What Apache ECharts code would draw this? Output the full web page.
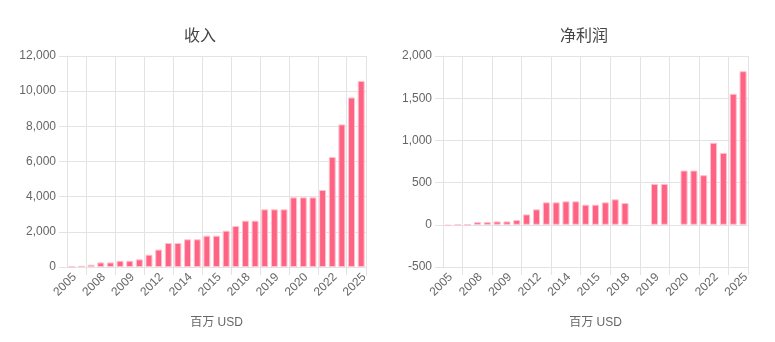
<!DOCTYPE html>
<html>
<head>
<meta charset="utf-8">
<script src="https://cdn.jsdelivr.net/npm/echarts@6/dist/echarts.min.js"></script>
<style>
html,body{margin:0;padding:0;background:#fff;}
#c{width:775px;height:342px;}
</style>
</head>
<body>
<div id="c"></div>
<script>
var categories = ['2005','2006','2007','2008','2008','2009','2009','2010','2011','2012','2013','2013','2014','2014','2015','2015','2016','2017','2018','2018','2019','2019','2019','2020','2020','2020','2021','2022','2023','2024','2025'];
var revenue = [15,70,130,260,260,355,355,435,700,990,1365,1365,1575,1575,1780,1780,2065,2330,2635,2635,3280,3280,3280,3960,3960,3960,4380,6255,8110,9640,10585];
var netProfit = [-12,-5,-2,32,32,40,40,56,123,183,266,266,278,278,238,238,266,302,258,null,null,484,484,null,643,643,588,972,852,1552,1820];
var titles = ['收入','净利润'];
var unitName = '百万 USD';

var FONT = '"Liberation Sans", Arial, "Noto Sans CJK SC", sans-serif';
var gridColor = '#e3e3e3';
function fmt(v){ return Number(v).toLocaleString('en-US'); }
function xAxisCfg(gi){
  return {
    type:'category', gridIndex:gi, data:categories, boundaryGap:true,
    name:unitName, nameLocation:'middle', nameGap:50,
    nameTextStyle:{color:'#666',fontSize:12,fontFamily:FONT},
    axisLine:{show:true,onZero:false,lineStyle:{color:gridColor}},
    axisTick:{show:true,length:8,interval:function(i){return i%3===2;},lineStyle:{color:gridColor}},
    splitLine:{show:true,interval:function(i){return i%3===2;},lineStyle:{color:gridColor}},
    axisLabel:{interval:2,rotate:45,color:'#666',fontSize:12,fontFamily:FONT,margin:11,
      padding:[0,-4,0,0]}
  };
}
function yAxisCfg(gi,min,max,interval){
  return {
    type:'value', gridIndex:gi, min:min, max:max, interval:interval,
    axisLine:{show:true,lineStyle:{color:gridColor}},
    axisTick:{show:true,length:8,lineStyle:{color:gridColor}},
    splitLine:{show:true,lineStyle:{color:gridColor}},
    axisLabel:{color:'#666',fontSize:12,fontFamily:FONT,formatter:fmt,margin:11}
  };
}
var barStyle = {color:'#ff6384',borderColor:'#ffc2cf',borderWidth:1};
var chart = echarts.init(document.getElementById('c'),null,{renderer:'canvas'});
chart.setOption({
  animation:false,
  title:[
    {text:titles[0],left:195,top:24,textAlign:'center',textStyle:{color:'#444',fontSize:16,fontWeight:'normal',fontFamily:FONT}},
    {text:titles[1],left:579,top:24,textAlign:'center',textStyle:{color:'#444',fontSize:16,fontWeight:'normal',fontFamily:FONT}}
  ],
  grid:[
    {left:67,top:56,width:299,height:211},
    {left:443,top:56,width:305,height:211}
  ],
  xAxis:[xAxisCfg(0),xAxisCfg(1)],
  yAxis:[yAxisCfg(0,0,12000,2000),yAxisCfg(1,-500,2000,500)],
  series:[
    {type:'bar',xAxisIndex:0,yAxisIndex:0,data:revenue,barWidth:'72%',itemStyle:barStyle},
    {type:'bar',xAxisIndex:1,yAxisIndex:1,data:netProfit,barWidth:'72%',itemStyle:barStyle}
  ]
});
</script>
</body>
</html>
